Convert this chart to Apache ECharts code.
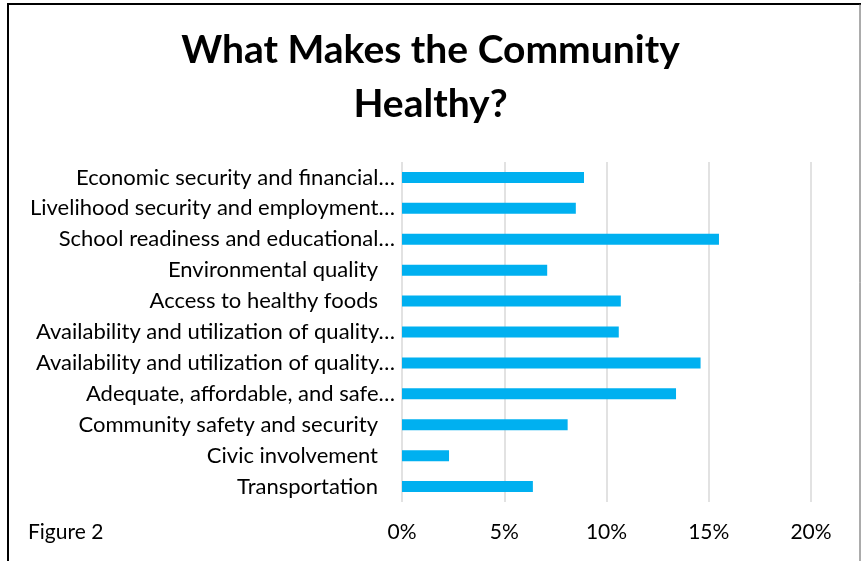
<!DOCTYPE html>
<html>
<head>
<meta charset="utf-8">
<title>What Makes the Community Healthy?</title>
<script src="https://cdn.jsdelivr.net/npm/echarts@6/dist/echarts.min.js"></script>
<style>
  html, body { margin: 0; padding: 0; background: #ffffff; }
  #chart { width: 861px; height: 561px; }
</style>
</head>
<body>
<div id="chart"></div>
<script>
// Survey categories, top to bottom
const categories = [
  'Economic security and financial…',
  'Livelihood security and employment…',
  'School readiness and educational…',
  'Environmental quality',
  'Access to healthy foods',
  'Availability and utilization of quality…',
  'Availability and utilization of quality…',
  'Adequate, affordable, and safe…',
  'Community safety and security',
  'Civic involvement',
  'Transportation'
];

// Share of responses (%)
const shares = [8.9, 8.5, 15.5, 7.1, 10.7, 10.6, 14.6, 13.4, 8.1, 2.3, 6.4];

// Value axis ticks (%)
const axisMin = 0;
const axisMax = 20;
const axisStep = 5;

const FONT = 'Lato, "Open Sans", sans-serif';

const chart = echarts.init(document.getElementById('chart'), null, { renderer: 'canvas' });

chart.setOption({
  backgroundColor: '#ffffff',
  animation: false,
  title: {
    text: 'What Makes the Community\nHealthy?',
    left: 'center',
    top: 18,
    textStyle: {
      fontFamily: FONT,
      fontWeight: 'bold',
      fontSize: 39,
      lineHeight: 54,
      color: '#000000'
    }
  },
  grid: {
    left: 402,
    right: 50,
    top: 162,
    bottom: 59,
    containLabel: false
  },
  xAxis: {
    type: 'value',
    min: axisMin,
    max: axisMax,
    interval: axisStep,
    axisLine: { show: false },
    axisTick: { show: false },
    splitLine: { show: true, lineStyle: { color: '#d9d9d9', width: 1.5 } },
    axisLabel: {
      margin: 20,
      fontFamily: FONT,
      fontSize: 21,
      color: '#000000',
      formatter: v => v + '%'
    }
  },
  yAxis: {
    type: 'category',
    data: categories,
    inverse: true,
    axisLine: { show: false },
    axisTick: { show: false },
    splitLine: { show: false },
    axisLabel: {
      margin: 7,
      fontFamily: FONT,
      fontSize: 22,
      color: '#000000',
      interval: 0,
      formatter: name => name.endsWith('…') ? name : name + '{pad|}',
      rich: { pad: { width: 17 } }
    }
  },
  series: [{
    type: 'bar',
    data: shares,
    barWidth: 11,
    itemStyle: { color: '#00b0f0' }
  }],
  graphic: [
    {
      type: 'text',
      left: 28,
      top: 522,
      style: {
        text: 'Figure 2',
        font: '21px ' + FONT,
        fill: '#000000'
      }
    },
    {
      type: 'line',
      shape: { x1: 8, y1: 3, x2: 8, y2: 561 },
      style: { stroke: '#000000', lineWidth: 2 }
    },
    {
      type: 'line',
      shape: { x1: 7, y1: 4, x2: 861, y2: 4 },
      style: { stroke: '#000000', lineWidth: 2 }
    },
    {
      type: 'line',
      shape: { x1: 860, y1: 4, x2: 860, y2: 561 },
      style: { stroke: '#595959', lineWidth: 1 }
    }
  ]
});
</script>
</body>
</html>
